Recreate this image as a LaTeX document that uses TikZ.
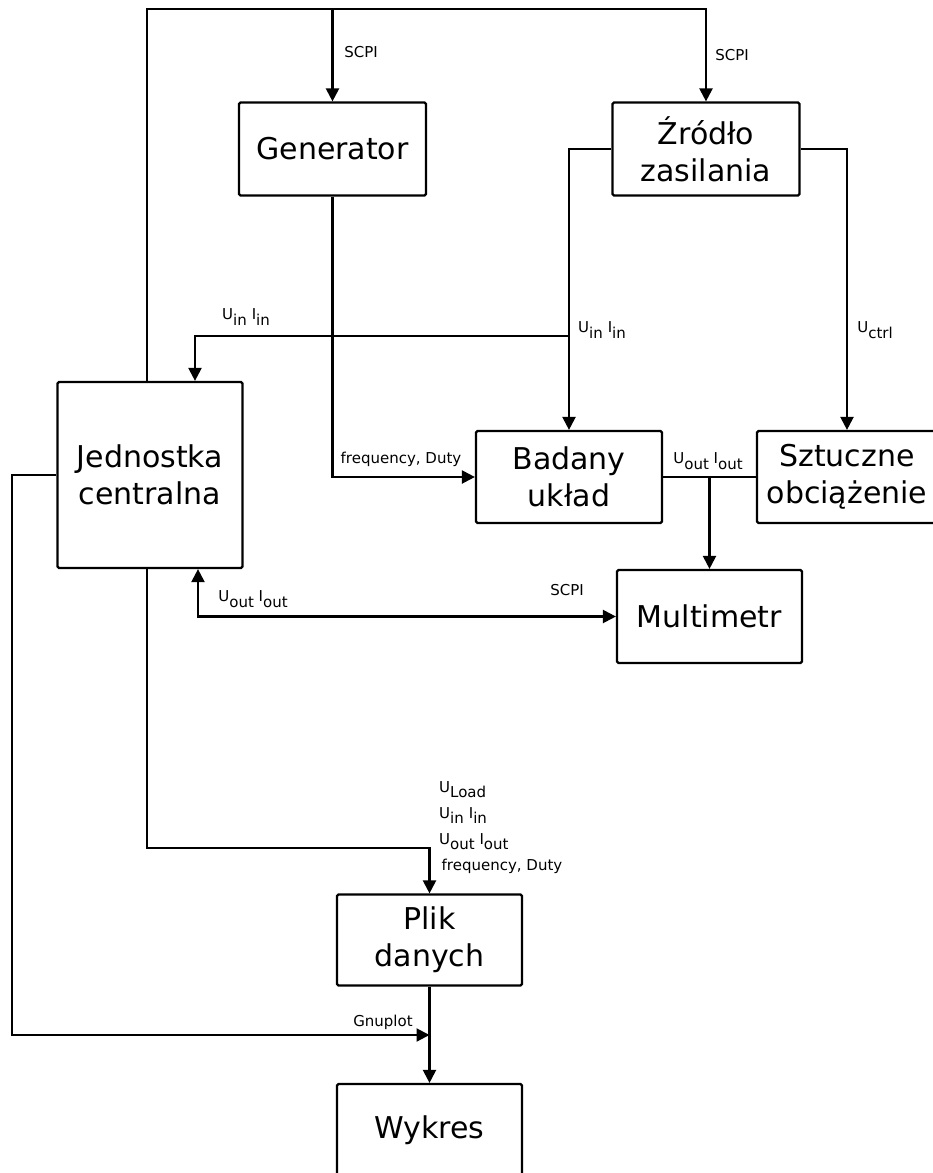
\documentclass[tikz,border=0pt]{standalone}
\usepackage{fontspec}
\setmainfont{DejaVu Sans}
\usetikzlibrary{arrows.meta}
\newcommand\lsub[1]{\raisebox{-0.38em}{#1}}
\begin{document}
\begin{tikzpicture}[x=1pt,y=-1pt,
  box/.style={draw, line width=2.2pt, rounded corners=1.5pt, align=center,
    font=\fontsize{30}{37}\selectfont, inner sep=0pt},
  wire/.style={line width=2.2pt},
  tip/.tip={Triangle[width=13pt,length=13pt]},
  arr/.style={wire, -tip},
  lbl/.style={font=\fontsize{15}{26}\selectfont, inner sep=0pt},
  ]
\useasboundingbox (0,0) rectangle (933,1173);

% boxes
\node[box, minimum width=187pt, minimum height=93pt] (gen) at (332.5,149) {Generator};
\node[box, minimum width=187pt, minimum height=93pt] (zr) at (706,149) {Źródło\\zasilania};
\node[box, minimum width=185pt, minimum height=186pt] (jedn) at (150,475) {Jednostka\\centralna};
\node[box, minimum width=186pt, minimum height=92pt] (bad) at (569,477) {Badany\\układ};
\node[box, minimum width=180pt, minimum height=92pt] (szt) at (847,477) {Sztuczne\\obciążenie};
\node[box, minimum width=185pt, minimum height=93pt] (multi) at (709.5,616.5) {Multimetr};
\node[box, minimum width=185pt, minimum height=91pt] (plik) at (429.5,940) {Plik\\danych};
\node[box, minimum width=185pt, minimum height=92pt] (wyk) at (429.5,1130) {Wykres};

% helper coordinates
\coordinate (tl) at (147,9);
\coordinate (yin) at (0,336);
\coordinate (xin) at (195,0);
\coordinate (xm) at (198,0);
\coordinate (xp) at (147,0);
\coordinate (yp) at (0,848);
\coordinate (xg) at (12,0);
\coordinate (yg) at (0,1035);

% SCPI bus from central unit
\draw[arr] (jedn.north -| tl) -- (tl) -| (zr.north);
\draw[arr] (gen.north |- tl) -- (gen.north);
\node[lbl] (scpi1) at (361,52) {SCPI};
\node[lbl] (scpi2) at (732,55) {SCPI};

% generator to DUT
\draw[arr] (gen.south) |- (bad.west);
\node[lbl] (fd) at (401,459) {frequency, Duty};

% power supply to DUT and load
\draw[arr] (zr.west) -| (bad.north);
\draw[arr] (bad.north |- yin) -| (jedn.north -| xin);
\node[lbl] (uin1) at (246,317) {U\lsub{in}\,\,I\lsub{in}};
\node[lbl] (uin2) at (602,330) {U\lsub{in}\,\,I\lsub{in}};
\draw[arr] (zr.east) -| (szt.north);
\node[lbl] (uctrl) at (875,330) {U\lsub{ctrl}};

% DUT to load and multimeter
\draw[wire] (bad.east) -- (szt.west);
\draw[arr] (bad.east -| multi.north) -- (multi.north);
\node[lbl] (uout1) at (708,461) {U\lsub{out} I\lsub{out}};

% central unit <-> multimeter
\draw[wire, tip-tip] (jedn.south -| xm) |- (multi.west);
\node[lbl] (uout2) at (253,599) {U\lsub{out} I\lsub{out}};
\node[lbl] (scpi3) at (567,590) {SCPI};

% central unit to data file
\draw[arr] (jedn.south -| xp) -- (xp |- yp) -| (plik.north);
\node[lbl, anchor=north west, align=left] (data) at (439,781)
  {U\lsub{Load}\\U\lsub{in}\,\,I\lsub{in}\\U\lsub{out} I\lsub{out}\\\,frequency, Duty};

% gnuplot
\draw[arr] (jedn.west) -| (xg |- yg) -- (plik.south |- yg);
\node[lbl] (gnu) at (383,1022) {Gnuplot};
\draw[arr] (plik.south) -- (wyk.north);
\end{tikzpicture}
\end{document}
